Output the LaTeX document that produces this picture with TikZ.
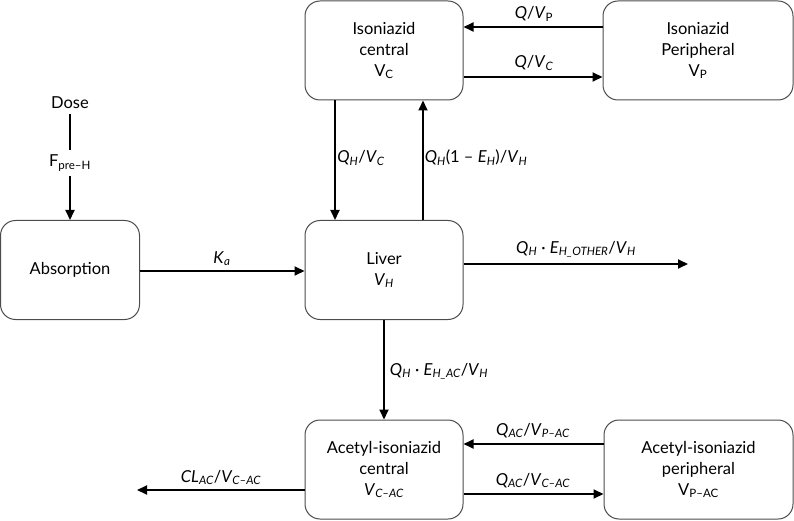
\documentclass[tikz,border=0pt]{standalone}
\usepackage{fontspec}
\setmainfont{Lato}
\usetikzlibrary{arrows.meta}
\newcommand\rsub[1]{\textsubscript{#1}}
\newcommand\isub[1]{\textsubscript{\itshape #1}}
\begin{document}
\begin{tikzpicture}[x=1pt,y=-1pt,
  box/.style={draw=black!70, line width=1pt, rounded corners=15pt, minimum width=158pt, minimum height=99pt, inner sep=0pt, align=center, font=\fontsize{16.5}{21}\selectfont},
  arr/.style={line width=1.8pt, -{Triangle[length=10pt,width=9pt]}},
  plain/.style={line width=1.8pt},
  lbl/.style={font=\fontsize{16.5}{20}\selectfont, inner sep=0pt, anchor=base},
  txt/.style={font=\fontsize{16.5}{20}\selectfont, inner sep=5pt}]
\useasboundingbox (0,0) rectangle (794,521);
% compartments
\node[box] (isoc) at (384,50.5) {Isoniazid\\central\\V\rsub{C}};
\node[box, minimum width=190pt] (isop) at (698,50.5) {Isoniazid\\Peripheral\\V\rsub{P}};
\node[box, minimum width=139pt] (abs) at (70,270) {Absorption};
\node[box] (liver) at (384,270) {Liver\\\textit{V}\isub{H}};
\node[box] (acc) at (384,469.5) {Acetyl-isoniazid\\central\\\textit{V}\isub{C–AC}};
\node[box, minimum width=189pt] (acp) at (698.5,469.5) {Acetyl-isoniazid\\peripheral\\V\rsub{P–AC}};
% dose
\node[txt] (dose) at (70,103) {Dose};
\node[txt] (fpre) at (70,163) {F\rsub{pre–H}};
\draw[plain] (dose) -- (fpre);
\draw[arr] (fpre) -- (abs);
% helper coordinates
\coordinate (xa) at (335,0);
\coordinate (xb) at (423,0);
\coordinate (xc) at (384,0);
\coordinate (ya) at (0,27);
\coordinate (yb) at (0,77);
\coordinate (yc) at (0,271);
\coordinate (yd) at (0,264);
\coordinate (ye) at (0,444);
\coordinate (yf) at (0,494);
\coordinate (yg) at (0,490);
\coordinate (endH) at (688,264);
\coordinate (endCL) at (137,490);
% connectors
\draw[arr] (isop.west |- ya) -- (isoc.east |- ya);
\draw[arr] (isoc.east |- yb) -- (isop.west |- yb);
\draw[arr] (abs.east |- yc) -- (liver.west |- yc);
\draw[arr] (isoc.south -| xa) -- (liver.north -| xa);
\draw[arr] (liver.north -| xb) -- (isoc.south -| xb);
\draw[arr] (liver.east |- yd) -- (endH);
\draw[arr] (liver.south -| xc) -- (acc.north -| xc);
\draw[arr] (acp.west |- ye) -- (acc.east |- ye);
\draw[arr] (acc.east |- yf) -- (acp.west |- yf);
\draw[arr] (acc.west |- yg) -- (endCL);
% labels
\node[lbl] (l1) at (534,19) {\textit{Q}/\textit{V}\rsub{P}};
\node[lbl] (l2) at (534,68) {\textit{Q}/\textit{V}\isub{C}};
\node[lbl] (l3) at (222,263) {\textit{K}\isub{a}};
\node[lbl] (l4) at (361,163) {\textit{Q}\isub{H}/\textit{V}\isub{C}};
\node[lbl] (l5) at (476,163) {\textit{Q}\isub{H}(1 – \textit{E}\isub{H})/\textit{V}\isub{H}};
\node[lbl] (l6) at (576,253) {\textit{Q}\isub{H} · \textit{E}\isub{H\_OTHER}/\textit{V}\isub{H}};
\node[lbl] (l7) at (439,375) {\textit{Q}\isub{H} · \textit{E}\isub{H\_AC}/\textit{V}\isub{H}};
\node[lbl] (l8) at (533,435) {\textit{Q}\isub{AC}/\textit{V}\isub{P–AC}};
\node[lbl] (l9) at (533,485) {\textit{Q}\isub{AC}/\textit{V}\isub{C–AC}};
\node[lbl] (l10) at (221,482) {\textit{CL}\isub{AC}/\textit{V}\isub{C–AC}};
\end{tikzpicture}
\end{document}
